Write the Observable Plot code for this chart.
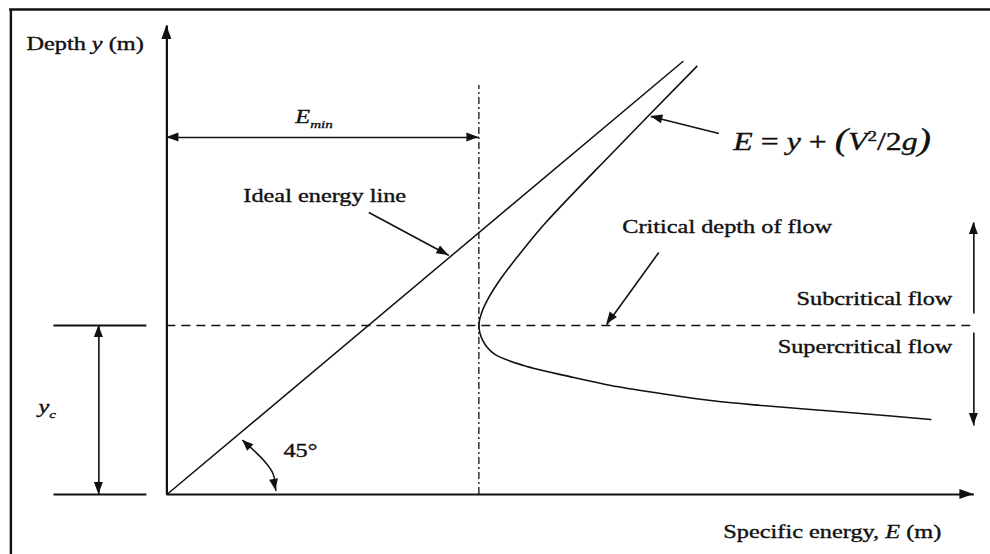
<!DOCTYPE html>
<html>
<head>
<meta charset="utf-8">
<script src="https://cdn.jsdelivr.net/npm/d3@7"></script>
<script src="https://cdn.jsdelivr.net/npm/@observablehq/plot@0.6"></script>
<style>
  html, body { margin: 0; padding: 0; background: #fff; overflow: hidden; }
  #chart svg { display: block; }
</style>
</head>
<body>
<div id="chart"></div>
<script>
// Specific energy diagram: depth y against specific energy E, in metres, with y_c = 1.
const criticalDepth = 1.0;   // y_c
const minEnergy = 1.5;       // E_min

// Ideal energy line (E = y)
const idealE = [0, 2.481];
const idealY = [0, 2.562];

// Specific energy curve E = y + V²/2g, upper (subcritical) branch to lower (supercritical) branch
const curveE = [2.548, 2.144, 1.822, 1.702, 1.606, 1.548, 1.514, 1.500, 1.519, 1.572, 1.716, 1.957,
                2.135, 2.375, 2.615, 2.856, 3.096, 3.337, 3.673];
const curveY = [2.533, 2.024, 1.609, 1.432, 1.278, 1.166, 1.077, 1.000, 0.911, 0.834, 0.763, 0.692,
                0.645, 0.598, 0.556, 0.527, 0.503, 0.479, 0.444];

// 45° angle marker arc between the ideal line and the E axis
const arcE = [0.365, 0.466, 0.510, 0.524];
const arcY = [0.320, 0.201, 0.124, 0.024];

// Axis arrows
const axisArrows = [
  {x1: 0, y1: 0, x2: 0, y2: 2.775},
  {x1: 0, y1: 0, x2: 3.880, y2: 0}
];

// Dimension and pointer arrows (heads: "end" or "both")
const pointerArrows = [
  {x1: 0, y1: 2.112, x2: minEnergy, y2: 2.112, heads: "both"},          // E_min
  {x1: -0.327, y1: 0, x2: -0.327, y2: criticalDepth, heads: "both"},    // y_c
  {x1: 0.971, y1: 1.669, x2: 1.356, y2: 1.414, heads: "end"},           // ideal energy line
  {x1: 2.654, y1: 2.136, x2: 2.327, y2: 2.237, heads: "end"},           // E curve
  {x1: 2.365, y1: 1.432, x2: 2.115, y2: 1.006, heads: "end"},           // critical depth
  {x1: 3.880, y1: 1.071, x2: 3.880, y2: 1.609, heads: "end"},           // subcritical
  {x1: 3.880, y1: 0.959, x2: 3.880, y2: 0.408, heads: "end"}            // supercritical
];

// Text labels; parts are [text, style] with style i = italic, sub, sup, big
const axisTitles = [
  {x: -0.673, y: 2.627, anchor: "start", parts: [["Depth "], ["y", "i"], [" (m)"]]},
  {x: 2.678, y: -0.260, anchor: "start", parts: [["Specific energy, "], ["E", "i"], [" (m)"]]}
];
const annotations = [
  {x: 0.620, y: 2.195, anchor: "start", parts: [["E", "i"], ["min", "i sub"]]},
  {x: -0.615, y: 0.479, anchor: "start", parts: [["y", "i"], ["c", "i sub"]]},
  {x: 0.370, y: 1.728, anchor: "start", parts: [["Ideal energy line"]]},
  {x: 2.192, y: 1.544, anchor: "start", parts: [["Critical depth of flow"]]},
  {x: 3.779, y: 1.118, anchor: "end", parts: [["Subcritical flow"]]},
  {x: 3.779, y: 0.834, anchor: "end", parts: [["Supercritical flow"]]},
  {x: 0.5625, y: 0.219, anchor: "start", parts: [["45°"]]}
];
const formula = [
  {x: 2.726, y: 2.036, anchor: "start",
   parts: [["E", "i"], [" = "], ["y", "i"], [" + "], ["(", "big"], ["V", "i"], ["2", "sup"], ["/2"], ["g", "i"], [")", "big"]]}
];

const FONT = "'Liberation Serif', 'Times New Roman', 'DejaVu Serif', serif";
const INK = "#111";

const curve = curveE.map((E, i) => ({E, y: curveY[i]}));
const ideal = idealE.map((E, i) => ({E, y: idealY[i]}));
const arc = arcE.map((E, i) => ({E, y: arcY[i]}));

// Filled triangular arrowheads, placed through the plot's x and y scales
function arrowheads(list, {length, half}) {
  return (index, scales) => {
    const g = d3.create("svg:g").attr("fill", INK);
    for (const a of list) {
      const tx = scales.x(a.tx), ty = scales.y(a.ty);
      const fx = scales.x(a.fx), fy = scales.y(a.fy);
      const dx = tx - fx, dy = ty - fy, n = Math.hypot(dx, dy);
      const ux = dx / n, uy = dy / n;
      const bx = tx - ux * length, by = ty - uy * length;
      g.append("path").attr("d",
        `M${tx},${ty}L${bx - uy * half},${by + ux * half}L${bx + uy * half},${by - ux * half}Z`);
    }
    return g.node();
  };
}

function headsOf(arrows) {
  const out = [];
  for (const a of arrows) {
    out.push({tx: a.x2, ty: a.y2, fx: a.x1, fy: a.y1});
    if (a.heads === "both") out.push({tx: a.x1, ty: a.y1, fx: a.x2, fy: a.y2});
  }
  return out;
}

// Text with italic, subscript and superscript runs, slightly widened horizontally
function richText(list, {size, stretch}) {
  return (index, scales) => {
    const g = d3.create("svg:g")
      .attr("font-family", FONT)
      .attr("fill", INK)
      .attr("stroke", INK)
      .attr("stroke-width", 0.35);
    for (const d of list) {
      const t = g.append("text")
        .attr("transform", `translate(${scales.x(d.x)},${scales.y(d.y)}) scale(${stretch},1)`)
        .attr("text-anchor", d.anchor)
        .attr("font-size", size);
      let shift = 0;
      for (const [s, style = ""] of d.parts) {
        const ts = t.append("tspan").text(s);
        if (style.includes("i")) ts.attr("font-style", "italic");
        let target = 0;
        if (style.includes("sub")) { ts.attr("font-size", size * 0.62); target = size * 0.28; }
        if (style.includes("sup")) { ts.attr("font-size", size * 0.6); target = -size * 0.38; }
        if (style.includes("big")) ts.attr("font-size", size * 1.25).attr("font-weight", 300);
        if (target !== shift) { ts.attr("dy", target - shift); shift = target; }
      }
    }
    return g.node();
  };
}

const chart = Plot.plot({
  width: 990,
  height: 554,
  marginTop: 0, marginRight: 0, marginBottom: 0, marginLeft: 0,
  x: {domain: [-0.8, 3.96], axis: null},
  y: {domain: [-0.355, 2.923], axis: null},
  style: {background: "#fff"},
  marks: [
    // outer border
    Plot.ruleX([-0.75], {y1: -0.4, y2: 2.870, stroke: INK, strokeWidth: 2.4}),
    Plot.ruleY([2.870], {x1: -0.756, x2: 3.96, stroke: INK, strokeWidth: 2.4}),

    // critical depth and minimum energy guides
    Plot.ruleY([criticalDepth], {x1: 0, x2: 3.865, stroke: INK, strokeWidth: 1.3, strokeDasharray: "9,6"}),
    Plot.ruleX([minEnergy], {y1: 0, y2: 2.420, stroke: INK, strokeWidth: 1.3, strokeDasharray: "7,3,2,3"}),

    // extension lines for the y_c dimension
    Plot.ruleY([0, criticalDepth], {x1: -0.543, x2: -0.096, stroke: INK, strokeWidth: 1.8}),

    // ideal energy line and the specific energy curve
    Plot.line(ideal, {x: "E", y: "y", stroke: INK, strokeWidth: 1.5}),
    Plot.line(curve, {x: "E", y: "y", stroke: INK, strokeWidth: 1.6, curve: "catmull-rom"}),

    // 45° marker
    Plot.line(arc, {x: "E", y: "y", stroke: INK, strokeWidth: 1.5, curve: "catmull-rom"}),
    arrowheads([{tx: arcE[0], ty: arcY[0], fx: arcE[1], fy: arcY[1]},
                {tx: arcE[3], ty: arcY[3], fx: arcE[2], fy: arcY[2]}], {length: 11, half: 4.5}),

    // axes
    Plot.link(axisArrows, {x1: "x1", y1: "y1", x2: "x2", y2: "y2", stroke: INK, strokeWidth: 2.2}),
    arrowheads(headsOf(axisArrows), {length: 14, half: 5}),

    // dimension and pointer arrows
    Plot.link(pointerArrows, {x1: "x1", y1: "y1", x2: "x2", y2: "y2", stroke: INK, strokeWidth: 1.6}),
    arrowheads(headsOf(pointerArrows), {length: 12, half: 4.5}),

    // labels
    richText(axisTitles, {size: 18, stretch: 1.35}),
    richText(annotations, {size: 18, stretch: 1.35}),
    richText(formula, {size: 24.5, stretch: 1.3})
  ]
});

document.getElementById("chart").append(chart);
</script>
</body>
</html>
